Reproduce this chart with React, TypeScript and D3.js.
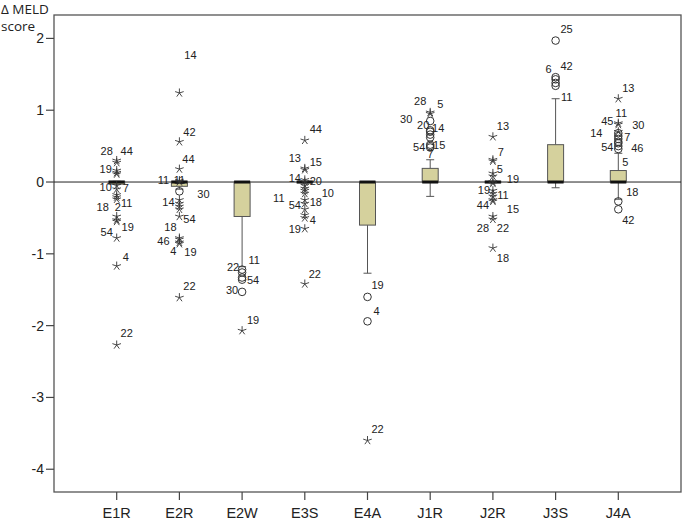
import React from "react";
import * as d3 from "d3";

// categories along the x axis
const categories = ["E1R", "E2R", "E2W", "E3S", "E4A", "J1R", "J2R", "J3S", "J4A"];

// box statistics per category
const q1s = [-0.03, -0.06, -0.48, -0.01, -0.6, 0, -0.01, 0, 0];
const medians = [0, 0, 0, 0, 0, 0, 0, 0, 0];
const q3s = [0.01, 0.01, 0, 0.01, 0, 0.19, 0.01, 0.52, 0.16];
const whiskerLows = [-0.03, -0.1, -1.18, -0.01, -1.27, -0.2, -0.01, -0.08, -0.24];
const whiskerHighs = [0.01, 0.01, 0, 0.01, 0, 0.31, 0.01, 1.16, 0.4];

const yTicks = [2, 1, 0, -1, -2, -3, -4];

// outliers: [value, case id, kind]  ("o" = outlier, "*" = extreme, "-" = label only)
type Out = [number, string, string];
const outliers: Out[][] = [
  [[0.3, "44", "*"], [0.27, "28", "*"], [0.16, "19", "*"], [0.13, "", "*"], [0.11, "", "*"],
   [-0.05, "10", "*"], [-0.1, "7", "*"], [-0.18, "", "*"], [-0.21, "11", "*"], [-0.24, "", "*"],
   [-0.48, "18", "*"], [-0.53, "2", "*"], [-0.55, "19", "*"], [-0.78, "54", "*"], [-1.17, "4", "*"],
   [-2.27, "22", "*"]],
  [[1.24, "14", "*"], [0.56, "42", "*"], [0.18, "44", "*"], [0.02, "11", "*"], [0.0, "11", "*"],
   [-0.13, "30", "o"], [-0.25, "14", "*"], [-0.3, "", "*"], [-0.34, "", "*"], [-0.38, "", "*"],
   [-0.48, "54", "*"], [-0.78, "18", "*"], [-0.8, "46", "*"], [-0.84, "4", "*"], [-0.86, "19", "*"],
   [-1.61, "22", "*"]],
  [[-1.22, "11", "o"], [-1.26, "22", "o"], [-1.33, "54", "o"], [-1.36, "", "o"], [-1.53, "30", "o"],
   [-2.07, "19", "*"]],
  [[0.58, "44", "*"], [0.19, "13", "*"], [0.17, "15", "*"], [0.03, "14", "*"], [0.0, "20", "*"],
   [-0.05, "", "*"], [-0.09, "11", "*"], [-0.12, "10", "*"], [-0.16, "", "*"], [-0.25, "54", "*"],
   [-0.3, "18", "*"], [-0.38, "", "*"], [-0.46, "", "*"], [-0.5, "4", "*"], [-0.65, "19", "*"],
   [-1.42, "22", "*"]],
  [[-1.6, "19", "o"], [-1.94, "4", "o"], [-3.6, "22", "*"]],
  [[0.97, "28", "*"], [0.95, "5", "*"], [0.85, "30", "o"], [0.72, "20", "o"], [0.7, "14", "o"],
   [0.66, "", "o"], [0.62, "", "o"], [0.52, "54", "o"], [0.5, "15", "o"], [0.48, "7", "o"]],
  [[0.63, "13", "*"], [0.31, "7", "*"], [0.29, "", "*"], [0.12, "5", "*"], [0.08, "", "*"],
   [0.0, "19", "*"], [-0.02, "", "*"], [-0.12, "19", "*"], [-0.16, "11", "*"], [-0.2, "", "*"],
   [-0.25, "44", "*"], [-0.27, "15", "*"], [-0.48, "28", "*"], [-0.52, "22", "*"], [-0.92, "18", "*"]],
  [[1.97, "25", "o"], [1.46, "6", "o"], [1.43, "42", "o"], [1.38, "", "o"], [1.34, "", "o"],
   [1.16, "11", "-"]],
  [[1.16, "13", "*"], [0.82, "11", "*"], [0.8, "45", "*"], [0.7, "30", "*"], [0.68, "14", "o"],
   [0.64, "7", "o"], [0.6, "", "o"], [0.56, "", "o"], [0.54, "54", "o"], [0.5, "46", "o"],
   [0.46, "5", "o"], [-0.27, "18", "o"], [-0.38, "42", "o"]],
];

// label placement relative to the marker, same order as outliers
const labelNudges: [number, number][][] = [
  [[10, -9], [-10, -11], [-11, -1], [0, 0], [0, 0], [-11, 2], [9, -1], [0, 0], [10, 6], [0, 0],
   [-14, -9], [1, -13], [11, 6], [-10, -6], [9, -9], [10, -12]],
  [[11, -38], [10, -10], [9, -10], [-16, 0], [0, -2], [24, 3], [-11, 2], [0, 0], [0, 0], [0, 0],
   [10, 3], [-9, -11], [-16, 2], [-6, 9], [11, 8], [10, -11]],
  [[12, -9], [-9, -5], [11, 3], [0, 0], [-10, -2], [11, -11]],
  [[11, -11], [-10, -10], [11, -8], [-10, -2], [11, -1], [0, 0], [-26, 10], [23, 3], [0, 0],
   [-10, 5], [11, -1], [0, 0], [0, 0], [8, 2], [-10, 0], [10, -10]],
  [[10, -12], [9, -10], [10, -11]],
  [[-10, -11], [10, -10], [-24, -2], [-7, -5], [8, -4], [0, 0], [0, 0], [-11, 2], [9, -1], [0, 7]],
  [[10, -11], [8, -8], [0, 0], [7, -4], [0, 0], [20, -3], [0, 0], [-9, 0], [10, 2], [0, 0],
   [-10, 5], [20, 8], [-10, 12], [10, 9], [10, 10]],
  [[11, -11], [-7, -8], [11, -13], [0, 0], [0, 0], [11, -2]],
  [[10, -11], [3, -10], [-11, -3], [20, -7], [-22, 0], [9, 1], [0, 0], [0, 0], [-11, 4],
   [19, 2], [7, 13], [14, -9], [10, 11]],
];

const W = 683;
const H = 521;
const left = 54;
const right = 681;
const top = 15;
const bottom = 492;
const boxW = 16;
const capW = 8;
const font = "'Liberation Sans', Arial, sans-serif";
const titleFont = "'Open Sans', 'Noto Sans', sans-serif";
const boxFill = "#d5d19d";
const ink = "#333";

const Star = ({ x, y }: { x: number; y: number }) => {
  const r = 4.5;
  const d = d3.range(5).map((i) => {
    const a = -Math.PI / 2 + (i * 2 * Math.PI) / 5;
    return `M${x},${y}L${x + r * Math.cos(a)},${y + r * Math.sin(a)}`;
  }).join("");
  return <path d={d} stroke={ink} strokeWidth={0.9} fill="none" />;
};

export default function App() {
  const x = d3.scalePoint<string>().domain(categories).range([left, right]).padding(1);
  const y = d3.scaleLinear().domain([-4.317, 2.326]).range([bottom, top]);

  return (
    <svg width={W} height={H} style={{ position: "absolute", left: 0, top: 0 }} fontFamily={font}>
      <rect x={0} y={0} width={W} height={H} fill="#fff" />
      <text x={1} y={14} fontSize={13.5} fontFamily={titleFont} fill="#222">Δ MELD</text>
      <text x={1} y={31} fontSize={13.5} fontFamily={titleFont} fill="#222">score</text>

      {/* frame */}
      <rect x={left} y={top} width={right - left} height={bottom - top} fill="none" stroke="#555" strokeWidth={1.3} />

      {/* y axis */}
      {yTicks.map((t) => (
        <g key={t}>
          <line x1={left - 8} x2={left} y1={y(t)} y2={y(t)} stroke="#444" strokeWidth={1.2} />
          <text x={left - 10} y={y(t)} dy="0.36em" textAnchor="end" fontSize={14} fill="#222">{t}</text>
        </g>
      ))}

      {/* x axis */}
      {categories.map((c) => (
        <g key={c}>
          <line x1={x(c)} x2={x(c)} y1={bottom} y2={bottom + 8} stroke="#444" strokeWidth={1.2} />
          <text x={x(c)} y={518} textAnchor="middle" fontSize={14.5} fill="#222">{c}</text>
        </g>
      ))}

      {/* zero reference */}
      <line x1={left} x2={right} y1={y(0)} y2={y(0)} stroke="#222" strokeWidth={1} />

      {/* boxes */}
      {categories.map((c, i) => {
        const cx = x(c) as number;
        return (
          <g key={c}>
            <line x1={cx} x2={cx} y1={y(whiskerHighs[i])} y2={y(q3s[i])} stroke="#555" />
            <line x1={cx} x2={cx} y1={y(q1s[i])} y2={y(whiskerLows[i])} stroke="#555" />
            <line x1={cx - capW / 2} x2={cx + capW / 2} y1={y(whiskerHighs[i])} y2={y(whiskerHighs[i])} stroke="#555" />
            <line x1={cx - capW / 2} x2={cx + capW / 2} y1={y(whiskerLows[i])} y2={y(whiskerLows[i])} stroke="#555" />
            <rect x={cx - boxW / 2} y={y(q3s[i])} width={boxW} height={Math.max(1, y(q1s[i]) - y(q3s[i]))}
              fill={boxFill} stroke="#555" strokeWidth={1} />
            <line x1={cx - boxW / 2} x2={cx + boxW / 2} y1={y(medians[i])} y2={y(medians[i])} stroke="#111" strokeWidth={3} />
          </g>
        );
      })}

      {/* outliers */}
      {categories.map((c, i) => {
        const cx = x(c) as number;
        return (
          <g key={c}>
            {outliers[i].map(([v, id, kind], j) => {
              const py = y(v);
              const [dx, dy] = labelNudges[i][j];
              return (
                <g key={j}>
                  {kind === "*" && <Star x={cx} y={py} />}
                  {kind === "o" && <circle cx={cx} cy={py} r={3.8} fill="none" stroke={ink} strokeWidth={1} />}
                  {id && (
                    <text x={cx + dx} y={py + dy} dy="0.35em" textAnchor="middle" fontSize={11} fill="#222">{id}</text>
                  )}
                </g>
              );
            })}
          </g>
        );
      })}
    </svg>
  );
}
